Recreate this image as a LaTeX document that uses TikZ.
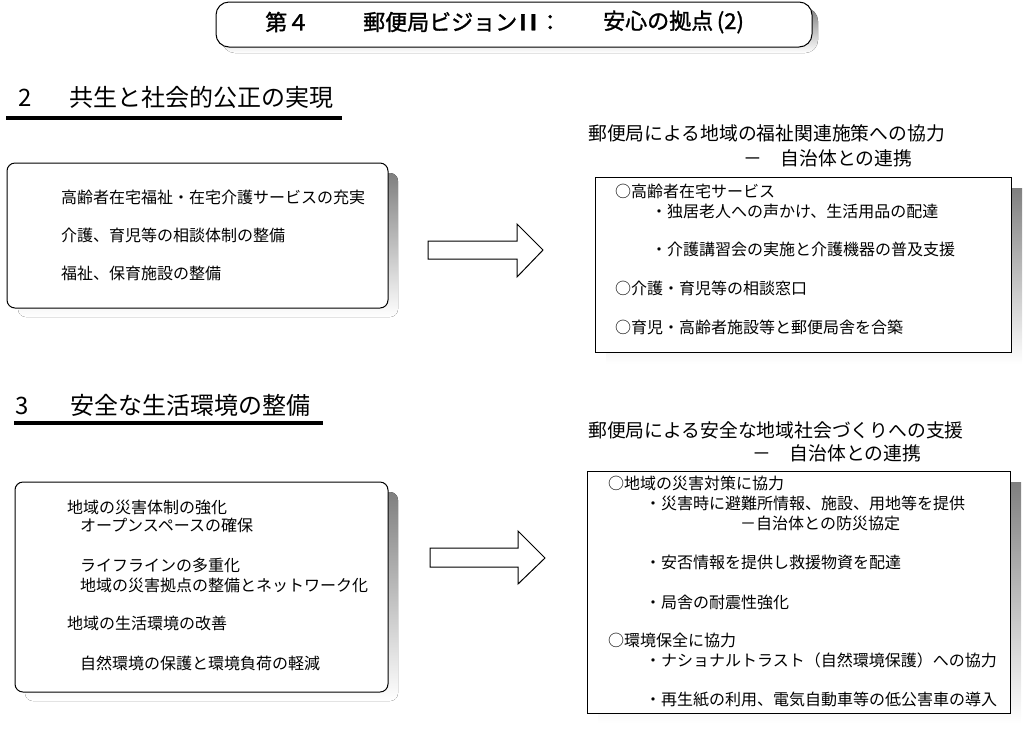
\documentclass[tikz,border=0pt]{standalone}
\usepackage{fontspec}
\setmainfont{Noto Sans CJK JP}[AutoFakeBold=1.3]
\definecolor{shade}{RGB}{192,192,192}

\begin{document}
\begin{tikzpicture}[x=1pt, y=-1pt,
    body/.style={anchor=west, inner sep=0pt, font=\fontsize{16}{18}\selectfont},
    lead/.style={anchor=west, inner sep=0pt, font=\fontsize{18.8}{22}\selectfont},
    head/.style={anchor=west, inner sep=0pt, font=\fontsize{24}{28}\selectfont},
    ttl/.style={anchor=west, inner sep=0pt, font=\fontsize{22}{26}\selectfont\bfseries},
    blockarrow/.style={draw, fill=white, line width=1pt, line join=miter}]
    \useasboundingbox (0,0) rectangle (1024,748);
    \fill[shade, rounded corners=13pt] (222,8) rectangle (818,53);
    \draw[fill=white, line width=1pt, rounded corners=13pt] (216,2) rectangle (812,47);
    \node[ttl] (ttlA) at (265,22) {第４};
    \node[ttl] (ttlB) at (363,22) {郵便局ビジョン\makebox[1em]{\scalebox{1.6}[1]{Ⅱ}}：};
    \node[ttl] (ttlC) at (603,22) {安心の拠点\,(2)};

    \node[head] (sec2) at (18,97) {2\hspace{1.6em}共生と社会的公正の実現};
    \draw[line width=3.5pt] (6,118) -- (342,118);
    \fill[shade, rounded corners=8pt] (18,173) rectangle (398,317);
    \draw[fill=white, line width=1pt, rounded corners=8pt] (7,163) rectangle (388,308);
    \node[body] (l1a) at (61,197) {高齢者在宅福祉・在宅介護サービスの充実};
    \node[body] (l1b) at (61,235) {介護、育児等の相談体制の整備};
    \node[body] (l1c) at (61,273) {福祉、保育施設の整備};
    \draw[blockarrow] (428,241) -- (517,241) -- (517,224) -- (543,250) -- (517,277)
        -- (517,259) -- (428,259) -- cycle;
    \node[lead] (r1h) at (588,133) {郵便局による地域の福祉関連施策への協力};
    \node[lead] (r1s) at (743,158) {－　自治体との連携};
    \fill[shade] (606,188) rectangle (1022,364);
    \draw[fill=white, line width=1pt] (595,177) rectangle (1011,352);
    \node[body] (r1a) at (615,191) {○高齢者在宅サービス};
    \node[body] (r1b) at (651,211) {・独居老人への声かけ、生活用品の配達};
    \node[body] (r1c) at (651,249) {・介護講習会の実施と介護機器の普及支援};
    \node[body] (r1d) at (615,288) {○介護・育児等の相談窓口};
    \node[body] (r1e) at (615,327) {○育児・高齢者施設等と郵便局舎を合築};

    \node[head] (sec3) at (15,405) {3\hspace{1.75em}安全な生活環境の整備};
    \draw[line width=3.5pt] (14,423) -- (323,423);
    \fill[shade, rounded corners=8pt] (25,492) rectangle (398,701);
    \draw[fill=white, line width=1pt, rounded corners=8pt] (15,482) rectangle (388,692);
    \node[body] (l2a) at (67,507) {地域の災害体制の強化};
    \node[body] (l2b) at (80,525) {オープンスペースの確保};
    \node[body] (l2c) at (80,565) {ライフラインの多重化};
    \node[body] (l2d) at (80,585) {地域の災害拠点の整備とネットワーク化};
    \node[body] (l2e) at (67,623) {地域の生活環境の改善};
    \node[body] (l2f) at (80,663) {自然環境の保護と環境負荷の軽減};
    \draw[blockarrow] (430,548) -- (518,548) -- (518,531) -- (545,558) -- (518,584)
        -- (518,567) -- (430,567) -- cycle;
    \node[lead] (r2h) at (588,430) {郵便局による安全な地域社会づくりへの支援};
    \node[lead] (r2s) at (752,453) {－　自治体との連携};
    \fill[shade] (598,482) rectangle (1021,723);
    \draw[fill=white, line width=1pt] (587,471) rectangle (1010,713);
    \node[body] (r2a) at (608,483) {○地域の災害対策に協力};
    \node[body] (r2b) at (645,503) {・災害時に避難所情報、施設、用地等を提供};
    \node[body] (r2c) at (740,523) {－自治体との防災協定};
    \node[body] (r2d) at (645,562) {・安否情報を提供し救援物資を配達};
    \node[body] (r2e) at (645,602) {・局舎の耐震性強化};
    \node[body] (r2f) at (608,640) {○環境保全に協力};
    \node[body] (r2g) at (645,660) {・ナショナルトラスト（自然環境保護）への協力};
    \node[body] (r2h) at (645,700) {・再生紙の利用、電気自動車等の低公害車の導入};
\end{tikzpicture}
\end{document}
